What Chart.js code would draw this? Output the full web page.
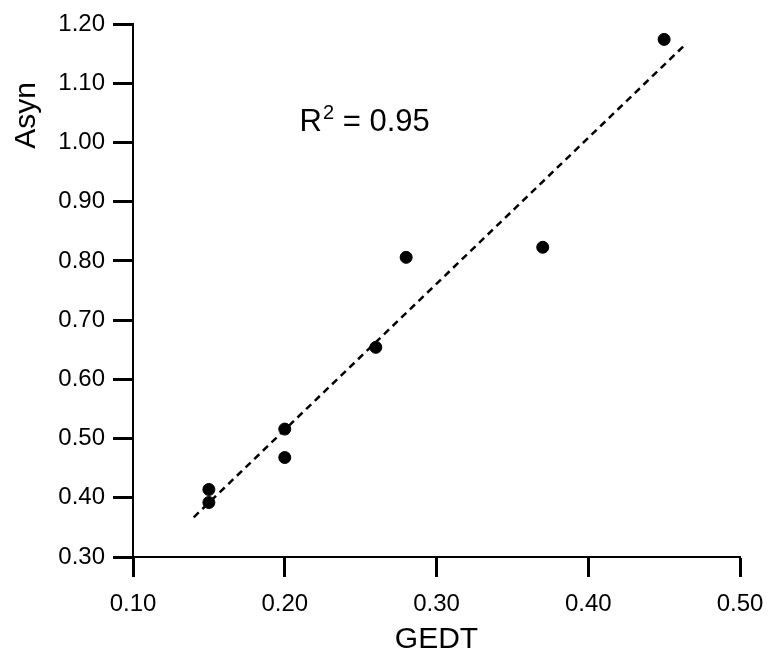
<!DOCTYPE html>
<html>
<head>
<meta charset="utf-8">
<script src="https://cdn.jsdelivr.net/npm/chart.js@4/dist/chart.umd.min.js"></script>
<style>
  html, body { margin: 0; padding: 0; background: #fff; }
  #wrap { width: 772px; height: 654px; }
</style>
</head>
<body>
<div id="wrap"><canvas id="c" width="772" height="654"></canvas></div>
<script>
// ---- data ----
const gedt = [0.15, 0.15, 0.20, 0.20, 0.26, 0.28, 0.37, 0.45];
const asyn = [0.392, 0.414, 0.468, 0.516, 0.654, 0.806, 0.823, 1.174];
const fitX = [0.140, 0.463];
const fitY = [0.367, 1.163];
const xTickLabels = ['0.10', '0.20', '0.30', '0.40', '0.50'];
const yTickLabels = ['0.30', '0.40', '0.50', '0.60', '0.70', '0.80', '0.90', '1.00', '1.10', '1.20'];
const xTitle = 'GEDT';
const yTitle = 'Asyn';
const r2Label = ['R', '2', ' = 0.95'];
const r2Pos = [0.2098, 1.0193];

const FONT = '"Liberation Sans", Arial, Helvetica, sans-serif';

const points = gedt.map((x, i) => ({ x: x, y: asyn[i] }));
const fit = fitX.map((x, i) => ({ x: x, y: fitY[i] }));

const textPlugin = {
  id: 'texts',
  afterDraw(chart) {
    const ctx = chart.ctx;
    const xs = chart.scales.x, ys = chart.scales.y;
    ctx.save();
    ctx.fillStyle = '#000';
    // R^2 label
    let px = xs.getPixelForValue(r2Pos[0]);
    const py = ys.getPixelForValue(r2Pos[1]);
    ctx.textBaseline = 'alphabetic';
    ctx.textAlign = 'left';
    ctx.font = '31px ' + FONT;
    ctx.fillText(r2Label[0], px, py);
    px += ctx.measureText(r2Label[0]).width + 1;
    ctx.font = '20px ' + FONT;
    ctx.fillText(r2Label[1], px, py - 12);
    px += ctx.measureText(r2Label[1]).width;
    ctx.font = '31px ' + FONT;
    ctx.fillText(r2Label[2], px, py);
    // y title (rotated, near top)
    ctx.translate(35, 115.5);
    ctx.rotate(-Math.PI / 2);
    ctx.font = '30px ' + FONT;
    ctx.textAlign = 'center';
    ctx.fillText(yTitle, 0, 0);
    ctx.restore();
  }
};

new Chart(document.getElementById('c'), {
  type: 'scatter',
  data: {
    datasets: [
      {
        type: 'line',
        data: fit,
        borderColor: '#000',
        borderWidth: 2.5,
        borderDash: [7, 5],
        pointRadius: 0,
        fill: false
      },
      {
        data: points,
        backgroundColor: '#000',
        borderColor: '#000',
        pointRadius: 6,
        pointHoverRadius: 6
      }
    ]
  },
  options: {
    responsive: false,
    animation: false,
    events: [],
    layout: { padding: { left: 0, right: 32, top: 24, bottom: 0 } },
    plugins: { legend: { display: false }, tooltip: { enabled: false } },
    scales: {
      x: {
        type: 'linear',
        min: 0.10, max: 0.50,
        afterFit(s) { s.height = 97; s.paddingLeft = 0; s.paddingRight = 0; },
        afterBuildTicks(s) { s.ticks = xTickLabels.map(v => ({ value: parseFloat(v) })); },
        ticks: {
          callback: (v, i) => xTickLabels[i],
          color: '#000',
          font: { family: FONT, size: 24 },
          padding: 13,
          maxRotation: 0,
          autoSkip: false
        },
        grid: { drawOnChartArea: false, tickLength: 20, tickWidth: 3, tickColor: '#000' },
        border: { color: '#000', width: 2 },
        title: {
          display: true,
          text: xTitle,
          color: '#000',
          font: { family: FONT, size: 30 },
          padding: { top: 0, bottom: -4 }
        }
      },
      y: {
        type: 'linear',
        min: 0.30, max: 1.20,
        afterFit(s) { s.width = 133; s.paddingTop = 0; s.paddingBottom = 0; },
        afterBuildTicks(s) { s.ticks = yTickLabels.map(v => ({ value: parseFloat(v) })); },
        ticks: {
          callback: (v, i) => yTickLabels[i],
          color: '#000',
          font: { family: FONT, size: 24 },
          padding: 8,
          autoSkip: false
        },
        grid: { drawOnChartArea: false, tickLength: 20, tickWidth: 3, tickColor: '#000' },
        border: { color: '#000', width: 2 }
      }
    }
  },
  plugins: [textPlugin]
});
</script>
</body>
</html>
